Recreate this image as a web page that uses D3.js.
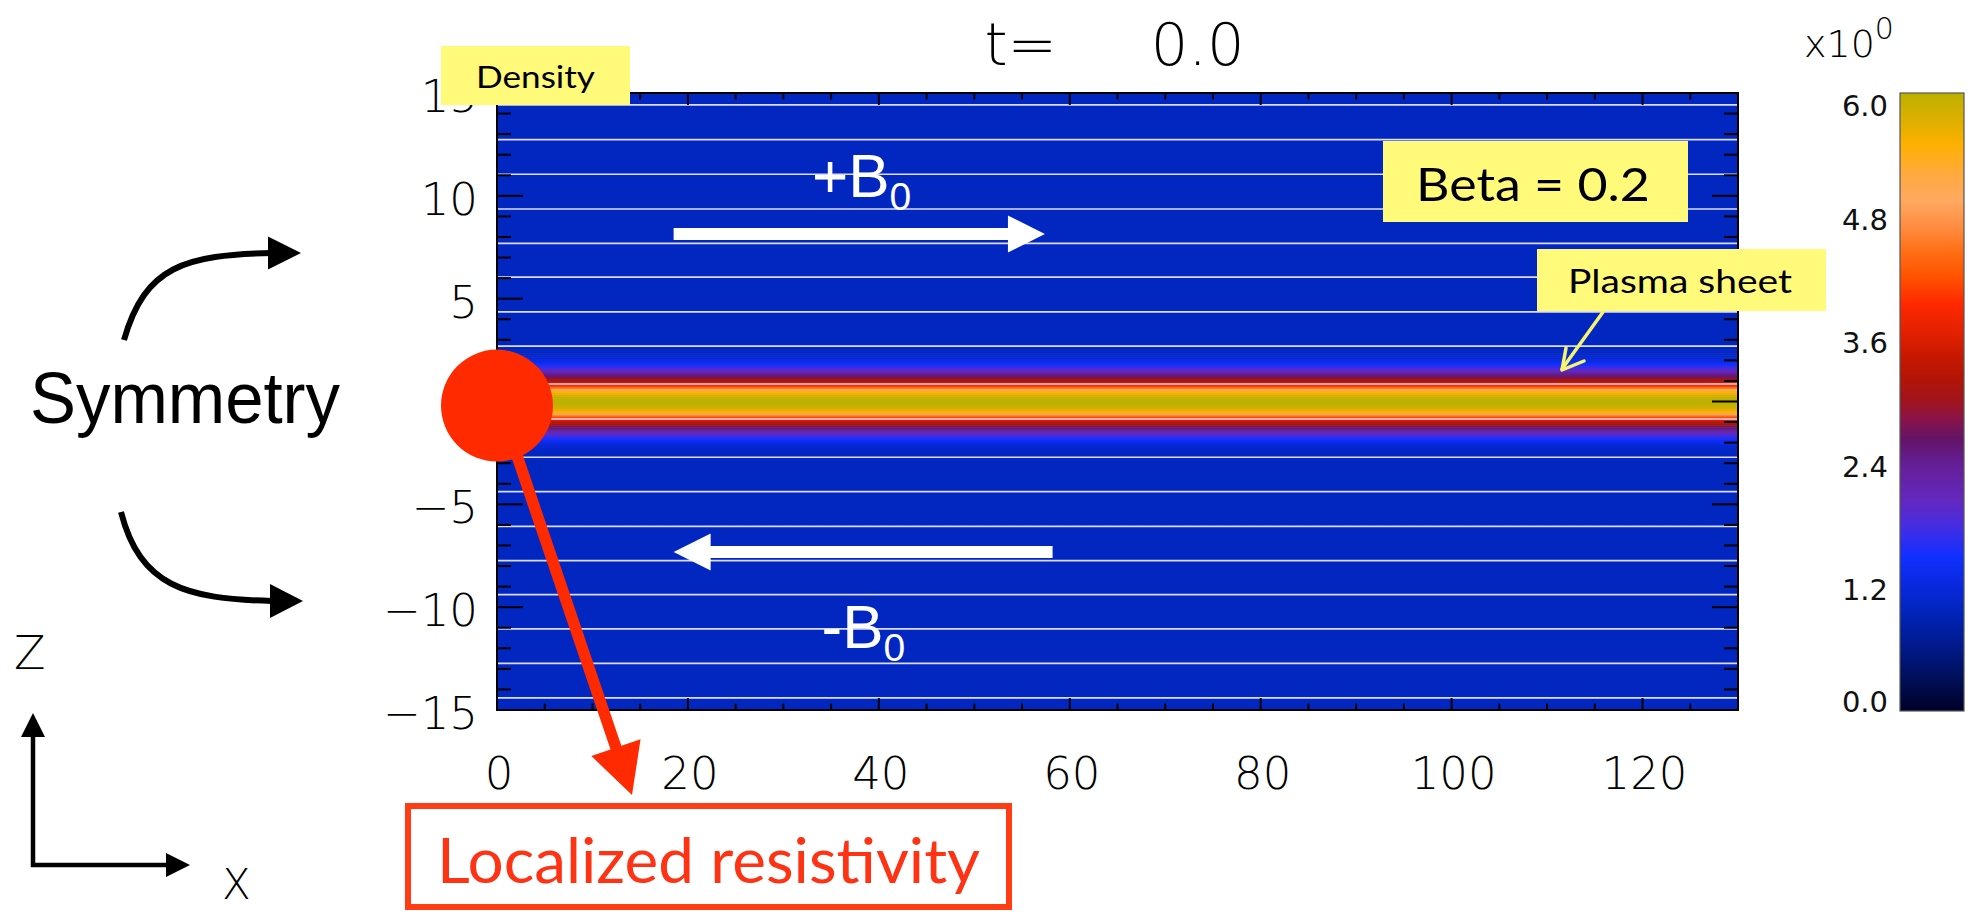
<!DOCTYPE html>
<html>
<head>
<meta charset="utf-8">
<script src="https://cdn.jsdelivr.net/npm/d3@7"></script>
<style>
  html, body { margin: 0; padding: 0; background: #ffffff; }
  svg { display: block; }
</style>
</head>
<body>
<svg id="chart" width="1975" height="912"></svg>
<script>
// ---------------- data ----------------
const xDomain = [0, 130];
const zDomain = [-15, 15];
const xTickLabels = [0, 20, 40, 60, 80, 100, 120];
const zTickLabels = [-15, -10, -5, 0, 5, 10, 15];
const timeValue = "0.0";

// Density across the current sheet (upper half, mirrored for z < 0)
const sheetZ = [0.0, 0.1, 0.2, 0.3, 0.4, 0.5, 0.6, 0.7, 0.8, 0.9, 1.0, 1.1, 1.2, 1.3, 1.4,
                1.5, 1.6, 1.7, 1.8, 1.9, 2.0, 2.1, 2.2, 2.3, 2.4, 2.6, 3.0, 15.0];
const sheetDensity = [6.00, 5.97, 5.90, 5.80, 5.62, 5.42, 5.05, 4.40, 3.95, 3.55, 3.25, 3.00, 2.75, 2.52, 2.30,
                      2.08, 1.88, 1.70, 1.55, 1.40, 1.28, 1.18, 1.10, 1.05, 1.03, 1.01, 1.00, 1.00];

// Heights of the drawn magnetic field lines
const fieldLineZ = [14.42, 12.73, 11.05, 9.36, 7.69, 6.05, 4.36, 2.69, 0.85,
                    -0.85, -2.71, -4.38, -6.07, -7.74, -9.39, -11.06, -12.73, -14.41];

// Colour table of the density image
const cmapValues = [0.0, 0.2, 0.45, 0.7, 1.0, 1.2, 1.5, 1.8, 2.05, 2.4, 2.65, 2.85, 3.0,
                    3.2, 3.45, 3.65, 3.95, 4.2, 4.45, 4.7, 4.95, 5.2, 5.5, 5.7, 6.0];
const cmapColors = ["#000028", "#000a46", "#00146e", "#001c96", "#0226c0", "#0828dc", "#1030ff",
                    "#462de0", "#6428be", "#641e96", "#641464", "#8c1446", "#a0141e", "#b01408",
                    "#c81800", "#e02000", "#ff2800", "#ff5000", "#ff6e14", "#ff8c40", "#ffa860",
                    "#ffaa40", "#ffb000", "#e1b000", "#bcb000"];
const colorbarTicks = [0.0, 1.2, 2.4, 3.6, 4.8, 6.0];
const colorbarDomain = [0, 6];

// ---------------- layout ----------------
const plot = { left: 497, right: 1738, top: 93, bottom: 710 };
const cbar = { left: 1900, right: 1964, top: 93, bottom: 711 };
const thinFont = "'DejaVu Sans', sans-serif";
const gothicFont = "Lato, 'Open Sans', sans-serif";
const helvFont = "'Liberation Sans', Arial, sans-serif";
const yellow = "#fffa7a";

const svg = d3.select("#chart");
const defs = svg.append("defs");

const x = d3.scaleLinear().domain(xDomain).range([plot.left, plot.right]);
const z = d3.scaleLinear().domain(zDomain).range([plot.bottom, plot.top]);
const color = d3.scaleLinear().domain(cmapValues).range(cmapColors)
  .interpolate(d3.interpolateRgb).clamp(true);

defs.append("clipPath").attr("id", "plot-clip")
  .append("rect")
  .attr("x", plot.left).attr("y", plot.top)
  .attr("width", plot.right - plot.left).attr("height", plot.bottom - plot.top);

// ---------------- density image ----------------
const rows = [];
sheetZ.forEach((zz, i) => {
  rows.push({ z: zz, n: sheetDensity[i] });
  if (zz > 0) rows.push({ z: -zz, n: sheetDensity[i] });
});
rows.sort((a, b) => a.z - b.z);
rows.forEach((r, i) => {
  r.z0 = i === 0 ? zDomain[0] : (rows[i - 1].z + r.z) / 2;
  r.z1 = i === rows.length - 1 ? zDomain[1] : (rows[i + 1].z + r.z) / 2;
});

const image = svg.append("g").attr("clip-path", "url(#plot-clip)");
image.selectAll("rect.row").data(rows).join("rect")
  .attr("class", "row")
  .attr("x", x(xDomain[0]))
  .attr("width", x(xDomain[1]) - x(xDomain[0]))
  .attr("y", d => z(d.z1))
  .attr("height", d => z(d.z0) - z(d.z1) + 0.6)
  .attr("fill", d => color(d.n));

// field lines
image.selectAll("line.field").data(fieldLineZ).join("line")
  .attr("class", "field")
  .attr("x1", x(xDomain[0])).attr("x2", x(xDomain[1]))
  .attr("y1", d => z(d)).attr("y2", d => z(d))
  .attr("stroke", "#dcdcf2").attr("stroke-width", 1.7);

// ---------------- axes (inward ticks on all four sides) ----------------
const axes = svg.append("g").attr("stroke", "#000").attr("stroke-width", 2);
const xTicksAll = d3.range(xDomain[0], xDomain[1], 5);
const zTicksAll = d3.range(zDomain[0], zDomain[1] + 1, 1);
const xMajor = 12, xMinor = 6.5, zMajor = 26, zMinor = 14;

axes.selectAll("line.xb").data(xTicksAll).join("line")
  .attr("x1", d => x(d)).attr("x2", d => x(d))
  .attr("y1", plot.bottom).attr("y2", d => plot.bottom - (d % 20 === 0 ? xMajor : xMinor));
axes.selectAll("line.xt").data(xTicksAll).join("line")
  .attr("x1", d => x(d)).attr("x2", d => x(d))
  .attr("y1", plot.top).attr("y2", d => plot.top + (d % 20 === 0 ? xMajor : xMinor));
axes.selectAll("line.zl").data(zTicksAll).join("line")
  .attr("y1", d => z(d)).attr("y2", d => z(d))
  .attr("x1", plot.left).attr("x2", d => plot.left + (d % 5 === 0 ? zMajor : zMinor));
axes.selectAll("line.zr").data(zTicksAll).join("line")
  .attr("y1", d => z(d)).attr("y2", d => z(d))
  .attr("x1", plot.right).attr("x2", d => plot.right - (d % 5 === 0 ? zMajor : zMinor));
axes.append("rect")
  .attr("x", plot.left).attr("y", plot.top)
  .attr("width", plot.right - plot.left).attr("height", plot.bottom - plot.top)
  .attr("fill", "none");

// tick labels
const labels = svg.append("g").attr("font-family", thinFont).attr("font-weight", 200)
  .attr("fill", "#000");
labels.selectAll("text.xl").data(xTickLabels).join("text")
  .attr("x", d => x(d) + 2).attr("y", 789)
  .attr("text-anchor", "middle").attr("font-size", 45)
  .text(d => d);
labels.selectAll("text.zl").data(zTickLabels).join("text")
  .attr("x", 478).attr("y", d => z(d) + 19)
  .attr("text-anchor", "end").attr("font-size", 45)
  .text(d => d < 0 ? "\u2212" + Math.abs(d) : d);

// title
svg.append("text")
  .attr("x", (plot.left + plot.right) / 2 - 3).attr("y", 65)
  .attr("text-anchor", "middle")
  .attr("font-family", thinFont).attr("font-weight", 200).attr("font-size", 59)
  .style("white-space", "pre")
  .text("t=     " + timeValue);

// ---------------- colour bar ----------------
const cb = d3.scaleLinear().domain(colorbarDomain).range([cbar.bottom, cbar.top]);
const grad = defs.append("linearGradient").attr("id", "cbar-grad")
  .attr("x1", 0).attr("x2", 0).attr("y1", 1).attr("y2", 0);
grad.selectAll("stop").data(cmapValues).join("stop")
  .attr("offset", d => (d - colorbarDomain[0]) / (colorbarDomain[1] - colorbarDomain[0]))
  .attr("stop-color", (d, i) => cmapColors[i]);
svg.append("rect")
  .attr("x", cbar.left).attr("y", cbar.top)
  .attr("width", cbar.right - cbar.left).attr("height", cbar.bottom - cbar.top)
  .attr("fill", "url(#cbar-grad)")
  .attr("stroke", "#555").attr("stroke-width", 1.2);
svg.append("g").selectAll("text").data(colorbarTicks).join("text")
  .attr("x", 1888)
  .attr("y", d => Math.min(cbar.bottom + 1, Math.max(cbar.top + 23, cb(d) + 13)))
  .attr("text-anchor", "end")
  .attr("font-family", thinFont).attr("font-size", 29).attr("fill", "#111")
  .text(d => d.toFixed(1));
const expo = svg.append("text").attr("x", 1804).attr("y", 57)
  .attr("font-family", thinFont).attr("font-weight", 200).attr("fill", "#000");
expo.append("tspan").attr("font-size", 38).text("x10");
expo.append("tspan").attr("font-size", 30).attr("dy", -18).text("0");

// ---------------- annotations ----------------
function headPoints(tip, from, len, width) {
  const dx = tip[0] - from[0], dy = tip[1] - from[1];
  const L = Math.hypot(dx, dy), ux = dx / L, uy = dy / L;
  const bx = tip[0] - ux * len, by = tip[1] - uy * len;
  return [tip, [bx - uy * width / 2, by + ux * width / 2], [bx + uy * width / 2, by - ux * width / 2]];
}
function straightArrow(g, from, tip, opts) {
  const dx = tip[0] - from[0], dy = tip[1] - from[1];
  const L = Math.hypot(dx, dy);
  const end = [tip[0] - dx / L * opts.len * 0.85, tip[1] - dy / L * opts.len * 0.85];
  g.append("line").attr("x1", from[0]).attr("y1", from[1]).attr("x2", end[0]).attr("y2", end[1])
    .attr("stroke", opts.color).attr("stroke-width", opts.shaft);
  g.append("polygon").attr("points", headPoints(tip, from, opts.len, opts.width).map(p => p.join(",")).join(" "))
    .attr("fill", opts.color);
}

const ann = svg.append("g");

// field direction arrows
straightArrow(ann, [x(18.5), z(8.14)], [x(57.4), z(8.14)], { color: "#fff", shaft: 12, len: 37, width: 37 });
straightArrow(ann, [x(58.2), z(-7.32)], [x(18.5), z(-7.32)], { color: "#fff", shaft: 12, len: 37, width: 37 });

function bLabel(sign, xv, zv) {
  const t = ann.append("text").attr("x", x(xv)).attr("y", z(zv))
    .attr("font-family", helvFont).attr("fill", "#fff");
  t.append("tspan").attr("font-size", 62).text(sign + "B");
  t.append("tspan").attr("font-size", 39).attr("dy", 13).text("0");
}
bLabel("+", 33.0, 9.94);
bLabel("-", 34.0, -11.98);

// yellow label boxes
function yellowBox(bx, by, bw, bh, label, tx, ty, size, len) {
  ann.append("rect").attr("x", bx).attr("y", by).attr("width", bw).attr("height", bh).attr("fill", yellow);
  ann.append("text").attr("x", tx).attr("y", ty)
    .attr("font-family", gothicFont).attr("font-size", size).attr("fill", "#000")
    .attr("textLength", len).attr("lengthAdjust", "spacingAndGlyphs")
    .text(label);
}
yellowBox(1383, 141, 305, 81, "Beta = 0.2", 1416, 201, 47, 234);
yellowBox(1537, 249, 289, 62, "Plasma sheet", 1568, 293, 33, 224);

// plasma sheet pointer
ann.append("line").attr("x1", 1603).attr("y1", 312).attr("x2", 1562).attr("y2", 369)
  .attr("stroke", "#f6f46e").attr("stroke-width", 3.5).attr("stroke-linecap", "round");
ann.append("polyline").attr("points", "1584,361 1562,370 1566,348")
  .attr("fill", "none").attr("stroke", "#f6f46e").attr("stroke-width", 3.5)
  .attr("stroke-linecap", "round").attr("stroke-linejoin", "round");

// density label (drawn over the top of the axis labels)
yellowBox(441, 46, 189, 59, "Density", 476, 88, 30, 119);

// localized resistivity marker
const red = "#ff2a00";
const rcx = x(0), rcy = z(-0.2);
straightArrow(ann, [rcx + 3, rcy], [632, 795], { color: red, shaft: 11.5, len: 50, width: 52 });
ann.append("circle").attr("cx", rcx).attr("cy", rcy).attr("r", 56).attr("fill", red);
ann.append("rect").attr("x", 408).attr("y", 806).attr("width", 601).attr("height", 101)
  .attr("fill", "#fff").attr("stroke", "#ff3c14").attr("stroke-width", 6);
ann.append("text").attr("x", 437).attr("y", 883)
  .attr("font-family", gothicFont).attr("font-size", 62).attr("fill", "#ff3214")
  .attr("textLength", 543).attr("lengthAdjust", "spacingAndGlyphs")
  .text("Localized resistivity");

// symmetry note with curved arrows
ann.append("text").attr("x", 30).attr("y", 423)
  .attr("font-family", helvFont).attr("font-size", 72).attr("fill", "#000")
  .attr("textLength", 310).attr("lengthAdjust", "spacingAndGlyphs")
  .text("Symmetry");
ann.append("path").attr("d", "M124,340 C145,266 185,255 272,253")
  .attr("fill", "none").attr("stroke", "#000").attr("stroke-width", 6);
ann.append("polygon").attr("points", headPoints([301, 253], [260, 253], 33, 33).map(p => p.join(",")).join(" "));
ann.append("path").attr("d", "M121,512 C140,586 185,599 272,601")
  .attr("fill", "none").attr("stroke", "#000").attr("stroke-width", 6);
ann.append("polygon").attr("points", headPoints([303, 601], [260, 601], 33, 34).map(p => p.join(",")).join(" "));

// coordinate system indicator
ann.append("path").attr("d", "M33,736 L33,865 L168,865")
  .attr("fill", "none").attr("stroke", "#000").attr("stroke-width", 4.5);
ann.append("polygon").attr("points", headPoints([33, 713], [33, 760], 24, 24).map(p => p.join(",")).join(" "));
ann.append("polygon").attr("points", headPoints([190, 865], [150, 865], 24, 24).map(p => p.join(",")).join(" "));
ann.append("text").attr("x", 14).attr("y", 669)
  .attr("font-family", thinFont).attr("font-weight", 200).attr("font-size", 46).text("Z");
ann.append("text").attr("x", 222).attr("y", 899)
  .attr("font-family", thinFont).attr("font-weight", 200).attr("font-size", 42).text("X");
</script>
</body>
</html>
